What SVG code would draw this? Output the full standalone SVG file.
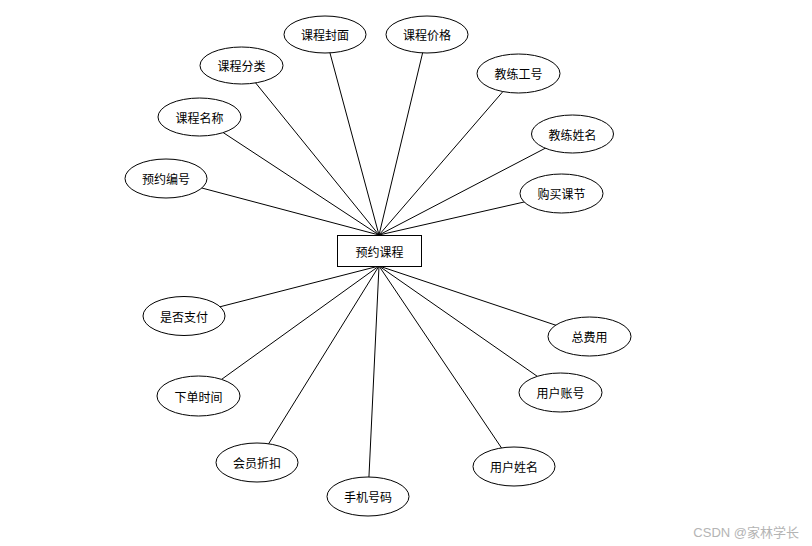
<svg xmlns="http://www.w3.org/2000/svg" width="812" height="546" viewBox="0 0 812 546">
<style>
.e{fill:#fff;stroke:#000;stroke-width:1}
.r{fill:#fff;stroke:#000;stroke-width:1}
.c line{stroke:#000;stroke-width:1}
.t{font-family:"Microsoft YaHei","Noto Sans CJK SC",sans-serif;font-size:12px;fill:#000;text-anchor:middle;dominant-baseline:central}
.w{font-family:"Liberation Sans","Noto Sans CJK SC",sans-serif;font-size:13px;fill:#b4b4b4;text-anchor:end;dominant-baseline:central}
</style>
<rect width="812" height="546" fill="#fff"/>
<g class="c" id="connectors">
<line x1="379" y1="235" x2="325" y2="34.5"/>
<line x1="379" y1="235" x2="427" y2="34.5"/>
<line x1="379" y1="235" x2="241.5" y2="65.5"/>
<line x1="379" y1="235" x2="518.5" y2="73.5"/>
<line x1="379" y1="235" x2="199.5" y2="117"/>
<line x1="379" y1="235" x2="572.5" y2="134"/>
<line x1="379" y1="235" x2="166" y2="178.5"/>
<line x1="379" y1="235" x2="561.5" y2="193.5"/>
<line x1="379" y1="266" x2="184" y2="316"/>
<line x1="379" y1="266" x2="589.5" y2="336.5"/>
<line x1="379" y1="266" x2="198.5" y2="396"/>
<line x1="379" y1="266" x2="560.5" y2="392.5"/>
<line x1="379" y1="266" x2="257" y2="462.5"/>
<line x1="379" y1="266" x2="514" y2="466.5"/>
<line x1="379" y1="266" x2="368" y2="496.5"/>
</g>
<g id="n-main"><rect class="r" x="337.5" y="235.5" width="84" height="31"/><text class="t" x="379.5" y="251">预约课程</text></g>
<g id="n1"><ellipse class="e" cx="325" cy="34.5" rx="41" ry="18.5"/><text class="t" x="325" y="34.5">课程封面</text></g>
<g id="n2"><ellipse class="e" cx="427" cy="34.5" rx="41" ry="18.5"/><text class="t" x="427" y="34.5">课程价格</text></g>
<g id="n3"><ellipse class="e" cx="241.5" cy="65.5" rx="41.5" ry="18.5"/><text class="t" x="241.5" y="65.5">课程分类</text></g>
<g id="n4"><ellipse class="e" cx="518.5" cy="73.5" rx="41.5" ry="19.5"/><text class="t" x="518.5" y="73.5">教练工号</text></g>
<g id="n5"><ellipse class="e" cx="199.5" cy="117" rx="41.5" ry="19"/><text class="t" x="199.5" y="117">课程名称</text></g>
<g id="n6"><ellipse class="e" cx="572.5" cy="134" rx="41" ry="19"/><text class="t" x="572.5" y="134">教练姓名</text></g>
<g id="n7"><ellipse class="e" cx="166" cy="178.5" rx="41" ry="19.5"/><text class="t" x="166" y="178.5">预约编号</text></g>
<g id="n8"><ellipse class="e" cx="561.5" cy="193.5" rx="41.5" ry="19.5"/><text class="t" x="561.5" y="193.5">购买课节</text></g>
<g id="n9"><ellipse class="e" cx="184" cy="316" rx="41" ry="19.5"/><text class="t" x="184" y="316">是否支付</text></g>
<g id="n10"><ellipse class="e" cx="589.5" cy="336.5" rx="41.5" ry="19.5"/><text class="t" x="589.5" y="336.5">总费用</text></g>
<g id="n11"><ellipse class="e" cx="198.5" cy="396" rx="41.5" ry="20"/><text class="t" x="198.5" y="396">下单时间</text></g>
<g id="n12"><ellipse class="e" cx="560.5" cy="392.5" rx="41.5" ry="19.5"/><text class="t" x="560.5" y="392.5">用户账号</text></g>
<g id="n13"><ellipse class="e" cx="257" cy="462.5" rx="41" ry="19.5"/><text class="t" x="257" y="462.5">会员折扣</text></g>
<g id="n14"><ellipse class="e" cx="514" cy="466.5" rx="41" ry="19.5"/><text class="t" x="514" y="466.5">用户姓名</text></g>
<g id="n15"><ellipse class="e" cx="368" cy="496.5" rx="41" ry="19.5"/><text class="t" x="368" y="496.5">手机号码</text></g>
<text class="w" x="799" y="532">CSDN @家林学长</text>
</svg>
